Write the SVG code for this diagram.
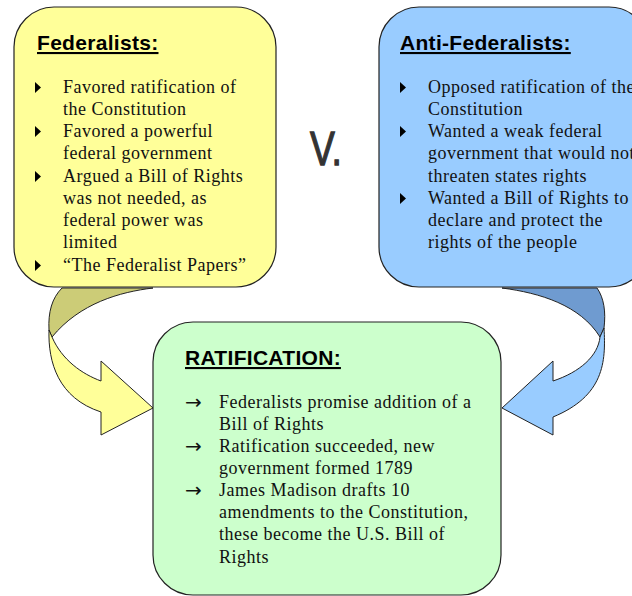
<svg xmlns="http://www.w3.org/2000/svg" width="632" height="596" viewBox="0 0 632 596">
<style>
.box{stroke:#222;stroke-width:1.2}
.title{font-family:"Liberation Sans",Arial,sans-serif;font-weight:bold;font-size:21px;letter-spacing:0.3px;fill:#000;text-decoration:underline}
.item{font-family:"Liberation Serif","Times New Roman",serif;font-size:18px;letter-spacing:0.5px;fill:#111}
.sym{font-family:"DejaVu Sans","Liberation Serif",serif;font-size:20px;fill:#111}
.tri{fill:#000}
.arr{stroke:#222;stroke-width:1}
</style>
<defs>
<path id="bul" d="M0,-5.5 L6,0 L0,5.5 Z"/>
</defs>
<rect width="632" height="596" fill="#fff"/>

<g id="federalists">
<rect class="box" x="14" y="7" width="262" height="280" rx="40" ry="40" fill="#ffff99"/>
<text class="title" x="37" y="50">Federalists:</text>
<use href="#bul" class="tri" x="35" y="87.5"/>
<use href="#bul" class="tri" x="35" y="131.5"/>
<use href="#bul" class="tri" x="35" y="176.5"/>
<use href="#bul" class="tri" x="35" y="265.5"/>
<text class="item" x="63" y="93">Favored ratification of</text>
<text class="item" x="63" y="115">the Constitution</text>
<text class="item" x="63" y="137">Favored a powerful</text>
<text class="item" x="63" y="159">federal government</text>
<text class="item" x="63" y="182">Argued a Bill of Rights</text>
<text class="item" x="63" y="204">was not needed, as</text>
<text class="item" x="63" y="226">federal power was</text>
<text class="item" x="63" y="248">limited</text>
<text class="item" x="63" y="271">“The Federalist Papers”</text>
</g>

<g id="anti-federalists">
<rect class="box" x="379" y="7" width="270" height="280" rx="40" ry="40" fill="#99ccff"/>
<text class="title" x="400" y="50">Anti-Federalists:</text>
<use href="#bul" class="tri" x="400" y="87.5"/>
<use href="#bul" class="tri" x="400" y="131.5"/>
<use href="#bul" class="tri" x="400" y="198.5"/>
<text class="item" x="428" y="93">Opposed ratification of the</text>
<text class="item" x="428" y="115">Constitution</text>
<text class="item" x="428" y="137">Wanted a weak federal</text>
<text class="item" x="428" y="159">government that would not</text>
<text class="item" x="428" y="182">threaten states rights</text>
<text class="item" x="428" y="204">Wanted a Bill of Rights to</text>
<text class="item" x="428" y="226">declare and protect the</text>
<text class="item" x="428" y="248">rights of the people</text>
</g>

<g id="versus">
<text transform="translate(310,165) scale(0.76,1)" font-family="'Liberation Sans',Arial,sans-serif" font-size="49" fill="#333" stroke="#333" stroke-width="1.3">V.</text>
</g>

<g id="connectors">
<path class="arr" fill="#cccc77" d="M62,288 L153,288 C120,292 80,303 52,337 L49,330 C48,312 52,298 62,288 Z"/>
<path class="arr" fill="#ffff99" d="M49,330 C48,362 58,398 101,412 L101,435 L153,408 L101,361 L101,381 C82,374 62,360 52,337 Z"/>
<path class="arr" fill="#6f9bd0" d="M597,288 L502,288 C540,293 580,305 600,337 L604,328 C606,312 604,298 597,288 Z"/>
<path class="arr" fill="#99ccff" d="M604,328 C606,362 604,396 553,417 L553,435 L502,408 L553,361 L553,381 C580,372 598,356 600,337 Z"/>
</g>

<g id="ratification">
<rect class="box" x="153" y="322" width="348" height="273" rx="40" ry="40" fill="#ccffcc"/>
<text class="title" x="185" y="365">RATIFICATION:</text>
<text class="sym" x="185" y="409">→</text>
<text class="sym" x="185" y="453">→</text>
<text class="sym" x="185" y="497">→</text>
<text class="item" x="219" y="408">Federalists promise addition of a</text>
<text class="item" x="219" y="430">Bill of Rights</text>
<text class="item" x="219" y="452">Ratification succeeded, new</text>
<text class="item" x="219" y="474">government formed 1789</text>
<text class="item" x="219" y="496">James Madison drafts 10</text>
<text class="item" x="219" y="518">amendments to the Constitution,</text>
<text class="item" x="219" y="540">these become the U.S. Bill of</text>
<text class="item" x="219" y="563">Rights</text>
</g>
</svg>
